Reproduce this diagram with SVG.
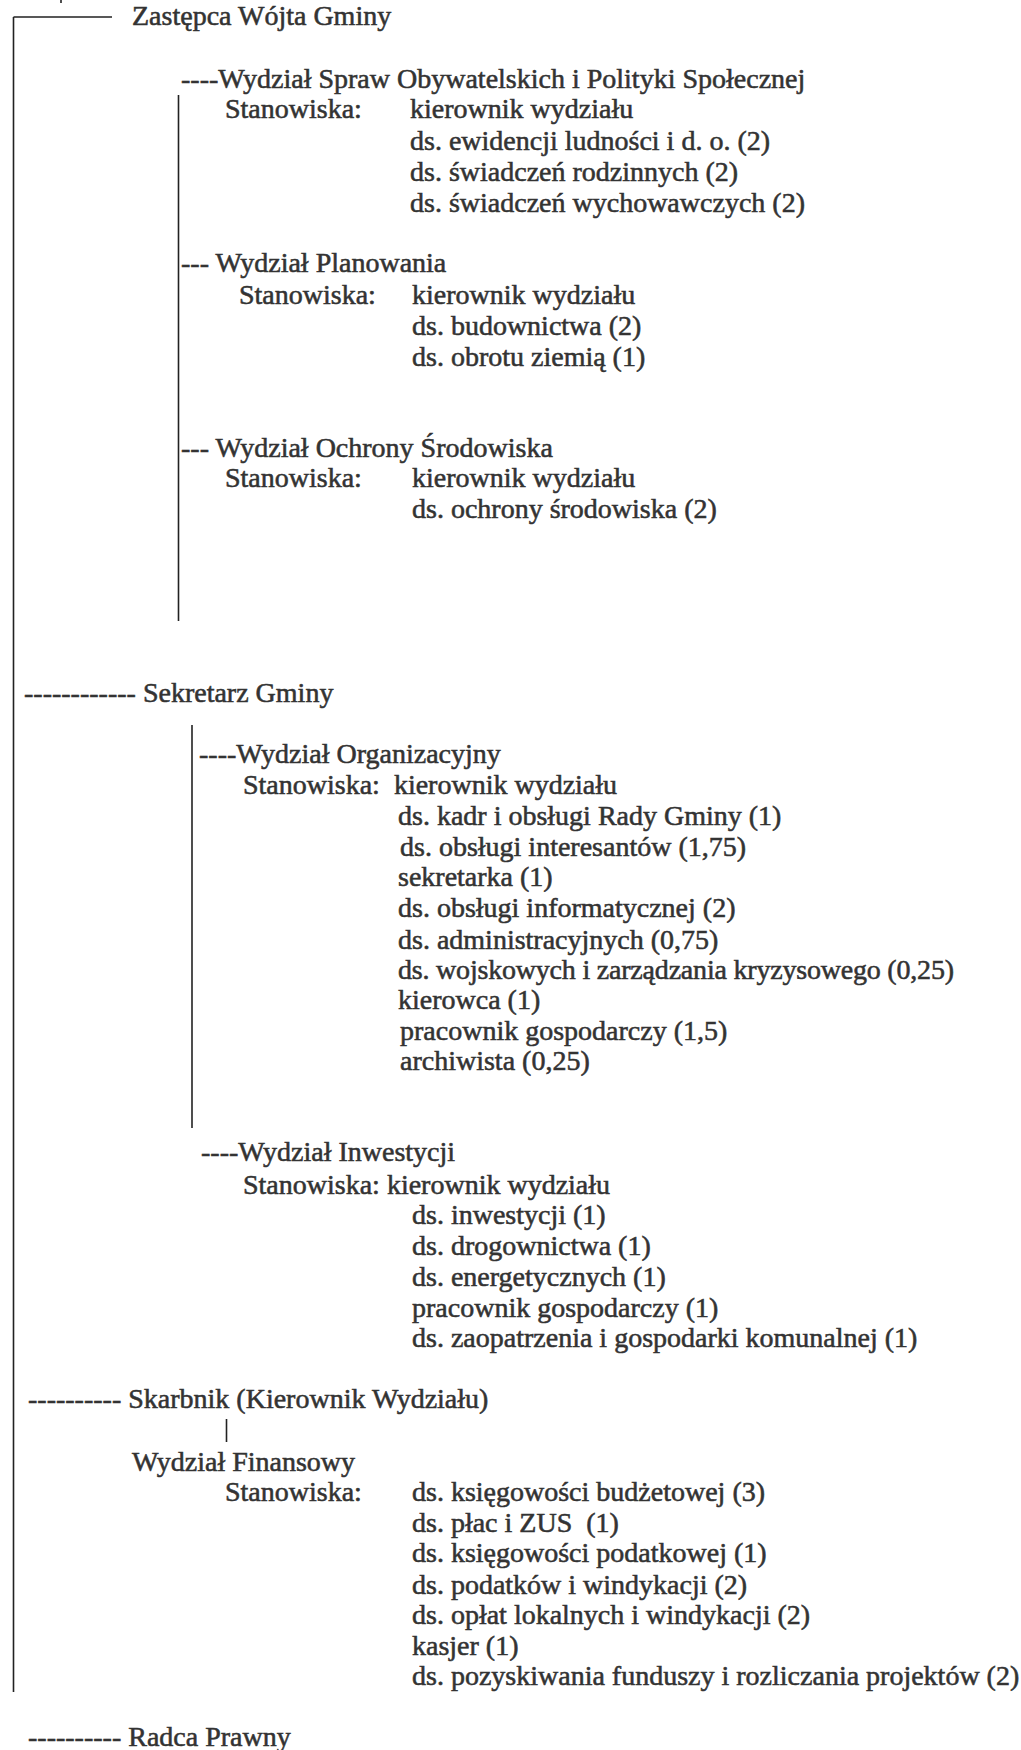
<svg xmlns="http://www.w3.org/2000/svg" width="1021" height="1750" viewBox="0 0 1021 1750">
<style>
text{font-family:"Liberation Serif","Times New Roman",serif;font-size:28px;fill:#333;stroke:#333;stroke-width:0.55}
.ln{stroke:#222;stroke-width:1.6;fill:none}
</style>
<rect width="1021" height="1750" fill="#fff"/>
<g id="connectors">
<path class="ln" d="M13.5 17 H112 M13.5 17 V1692"/>
<path class="ln" d="M61 0 V3"/>
<path class="ln" d="M178.5 95 V621"/>
<path class="ln" d="M192 725 V1128"/>
<path class="ln" d="M226.5 1419 V1442"/>
</g>
<g id="zastepca"><text x="132" y="25">Zastępca Wójta Gminy</text></g>
<g id="wydzial-spraw">
<text x="181" y="88">----Wydział Spraw Obywatelskich i Polityki Społecznej</text>
<text x="225" y="118">Stanowiska:</text>
<text x="410" y="118">kierownik wydziału</text>
<text x="410" y="150">ds. ewidencji ludności i d. o. (2)</text>
<text x="410" y="181">ds. świadczeń rodzinnych (2)</text>
<text x="410" y="212">ds. świadczeń wychowawczych (2)</text>
</g>
<g id="wydzial-planowania">
<text x="181" y="272">--- Wydział Planowania</text>
<text x="239" y="304">Stanowiska:</text>
<text x="412" y="304">kierownik wydziału</text>
<text x="412" y="335">ds. budownictwa (2)</text>
<text x="412" y="366">ds. obrotu ziemią (1)</text>
</g>
<g id="wydzial-ochrony">
<text x="181" y="457">--- Wydział Ochrony Środowiska</text>
<text x="225" y="487">Stanowiska:</text>
<text x="412" y="487">kierownik wydziału</text>
<text x="412" y="518">ds. ochrony środowiska (2)</text>
</g>
<g id="sekretarz"><text x="24" y="702">------------ Sekretarz Gminy</text></g>
<g id="wydzial-organizacyjny">
<text x="199" y="763">----Wydział Organizacyjny</text>
<text x="243" y="794" xml:space="preserve">Stanowiska:  kierownik wydziału</text>
<text x="398" y="825">ds. kadr i obsługi Rady Gminy (1)</text>
<text x="400" y="856">ds. obsługi interesantów (1,75)</text>
<text x="398" y="886">sekretarka (1)</text>
<text x="398" y="917">ds. obsługi informatycznej (2)</text>
<text x="398" y="949">ds. administracyjnych (0,75)</text>
<text x="398" y="979" textLength="556">ds. wojskowych i zarządzania kryzysowego (0,25)</text>
<text x="398" y="1009">kierowca (1)</text>
<text x="400" y="1040">pracownik gospodarczy (1,5)</text>
<text x="400" y="1070">archiwista (0,25)</text>
</g>
<g id="wydzial-inwestycji">
<text x="201" y="1161">----Wydział Inwestycji</text>
<text x="243" y="1194">Stanowiska: kierownik wydziału</text>
<text x="412" y="1224">ds. inwestycji (1)</text>
<text x="412" y="1255">ds. drogownictwa (1)</text>
<text x="412" y="1286">ds. energetycznych (1)</text>
<text x="412" y="1317">pracownik gospodarczy (1)</text>
<text x="412" y="1347">ds. zaopatrzenia i gospodarki komunalnej (1)</text>
</g>
<g id="skarbnik"><text x="28" y="1408">---------- Skarbnik (Kierownik Wydziału)</text></g>
<g id="wydzial-finansowy">
<text x="132" y="1471">Wydział Finansowy</text>
<text x="225" y="1501">Stanowiska:</text>
<text x="412" y="1501">ds. księgowości budżetowej (3)</text>
<text x="412" y="1532" xml:space="preserve">ds. płac i ZUS  (1)</text>
<text x="412" y="1562">ds. księgowości podatkowej (1)</text>
<text x="412" y="1594">ds. podatków i windykacji (2)</text>
<text x="412" y="1624">ds. opłat lokalnych i windykacji (2)</text>
<text x="412" y="1655">kasjer (1)</text>
<text x="412" y="1685">ds. pozyskiwania funduszy i rozliczania projektów (2)</text>
</g>
<g id="radca"><text x="28" y="1746">---------- Radca Prawny</text></g>
</svg>
